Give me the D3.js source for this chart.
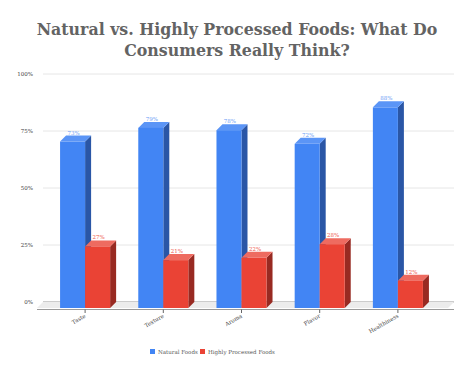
<!DOCTYPE html>
<html>
<head>
<meta charset="utf-8">
<script src="https://cdn.jsdelivr.net/npm/d3@7"></script>
<style>
html,body{margin:0;padding:0;background:#fff;}
svg{display:block;}
</style>
</head>
<body>
<svg id="chart" width="473" height="377"></svg>
<script>
const categories = ["Taste", "Texture", "Aroma", "Flavor", "Healthiness"];
const seriesNames = ["Natural Foods", "Highly Processed Foods"];
const naturalValues = [0.73, 0.79, 0.78, 0.72, 0.88];
const processedValues = [0.27, 0.21, 0.22, 0.28, 0.12];
const yTicks = [0, 0.25, 0.5, 0.75, 1];
const yTickLabels = ["0%", "25%", "50%", "75%", "100%"];
const titleLines = ["Natural vs. Highly Processed Foods: What Do", "Consumers Really Think?"];

const colors = {
  "Natural Foods": {front: "#4285f4", side: "#2a56a6", top: "#5b95f6", label: "#6d9ef5"},
  "Highly Processed Foods": {front: "#ea4335", side: "#982a22", top: "#ee6b60", label: "#ee5a4e"}
};

const svg = d3.select("#chart");
const depthX = 6, depthY = 6;
const serif = "'DejaVu Serif', Georgia, serif";

// Title
svg.append("g").selectAll("text").data(titleLines).join("text")
  .attr("x", 237).attr("y", (d, i) => 35 + i * 21)
  .attr("text-anchor", "middle")
  .attr("font-family", serif).attr("font-weight", "bold")
  .attr("font-size", 15.8).attr("fill", "#636363")
  .text(d => d);

const x0 = d3.scaleBand().domain(categories).range([46, 437]);
const bw = x0.bandwidth();
const x1 = d3.scaleBand().domain(seriesNames).range([bw * 0.18, bw * 0.82]);
const yBack = d3.scaleLinear().domain([0, 1]).range([302, 74]);
const yFront = v => yBack(v) + depthY;

// Gridlines (back plane)
const grid = svg.append("g");
grid.selectAll("line").data(yTicks).join("line")
  .attr("x1", 43).attr("x2", 454)
  .attr("y1", d => yBack(d)).attr("y2", d => yBack(d))
  .attr("stroke", d => d === 0 ? "#9a9a9a" : "#e6e6e6")
  .attr("stroke-width", d => d === 0 ? 1.2 : 1);

// Y axis labels
svg.append("g").selectAll("text").data(yTicks).join("text")
  .attr("x", 33).attr("y", d => yBack(d) + 2)
  .attr("text-anchor", "end")
  .attr("font-family", serif).attr("font-size", 5.5).attr("fill", "#444")
  .text((d, i) => yTickLabels[i]);

// Floor
const fx0 = 37, fx1 = 448;
svg.append("path")
  .attr("d", `M${fx0},${yFront(0)} L${fx0 + depthX},${yBack(0)} L${fx1 + depthX},${yBack(0)} L${fx1},${yFront(0)} Z`)
  .attr("fill", "#ececec");
svg.append("line")
  .attr("x1", fx0).attr("x2", fx1 + depthX)
  .attr("y1", yFront(0) + 1.5).attr("y2", yFront(0) + 1.5)
  .attr("stroke", "#9a9a9a").attr("stroke-width", 1.2);

// Category ticks
svg.append("g").selectAll("line").data(categories).join("line")
  .attr("x1", d => x0(d) + bw / 2).attr("x2", d => x0(d) + bw / 2)
  .attr("y1", yFront(0) + 1.5).attr("y2", yFront(0) + 5)
  .attr("stroke", "#666").attr("stroke-width", 1);

// Bars
const barData = [];
categories.forEach((c, i) => {
  barData.push({cat: c, series: seriesNames[0], value: naturalValues[i]});
  barData.push({cat: c, series: seriesNames[1], value: processedValues[i]});
});
const bars = svg.append("g").selectAll("g").data(barData).join("g");
bars.each(function(d) {
  const g = d3.select(this);
  const xl = x0(d.cat) + x1(d.series);
  const w = x1.bandwidth();
  const yt = yFront(d.value), yb = yFront(0);
  const c = colors[d.series];
  // side
  g.append("path")
    .attr("d", `M${xl + w},${yt} L${xl + w + depthX},${yt - depthY} L${xl + w + depthX},${yb - depthY} L${xl + w},${yb} Z`)
    .attr("fill", c.side);
  // top
  g.append("path")
    .attr("d", `M${xl},${yt} L${xl + depthX},${yt - depthY} L${xl + w + depthX},${yt - depthY} L${xl + w},${yt} Z`)
    .attr("fill", c.top);
  // front
  g.append("rect")
    .attr("x", xl).attr("y", yt).attr("width", w).attr("height", yb - yt)
    .attr("fill", c.front);
  // label
  g.append("text")
    .attr("x", xl + w / 2 + 1).attr("y", yt - depthY - 1)
    .attr("text-anchor", "middle")
    .attr("font-family", serif).attr("font-size", 5.5).attr("fill", c.label)
    .text(Math.round(d.value * 100) + "%");
});

// X labels
svg.append("g").selectAll("text").data(categories).join("text")
  .attr("transform", d => `translate(${x0(d) + bw / 2 + 1},${yFront(0) + 9}) rotate(-30)`)
  .attr("text-anchor", "end")
  .attr("font-family", serif).attr("font-size", 5.5).attr("fill", "#444")
  .text(d => d);

// Legend
const legendX = [150, 200];
const legend = svg.append("g").selectAll("g").data(seriesNames).join("g")
  .attr("transform", (d, i) => `translate(${legendX[i]},349)`);
legend.append("rect").attr("width", 5).attr("height", 5)
  .attr("fill", d => colors[d].front);
legend.append("text").attr("x", 8).attr("y", 4.6)
  .attr("font-family", serif).attr("font-size", 5.5).attr("fill", "#555")
  .text(d => d);
</script>
</body>
</html>
